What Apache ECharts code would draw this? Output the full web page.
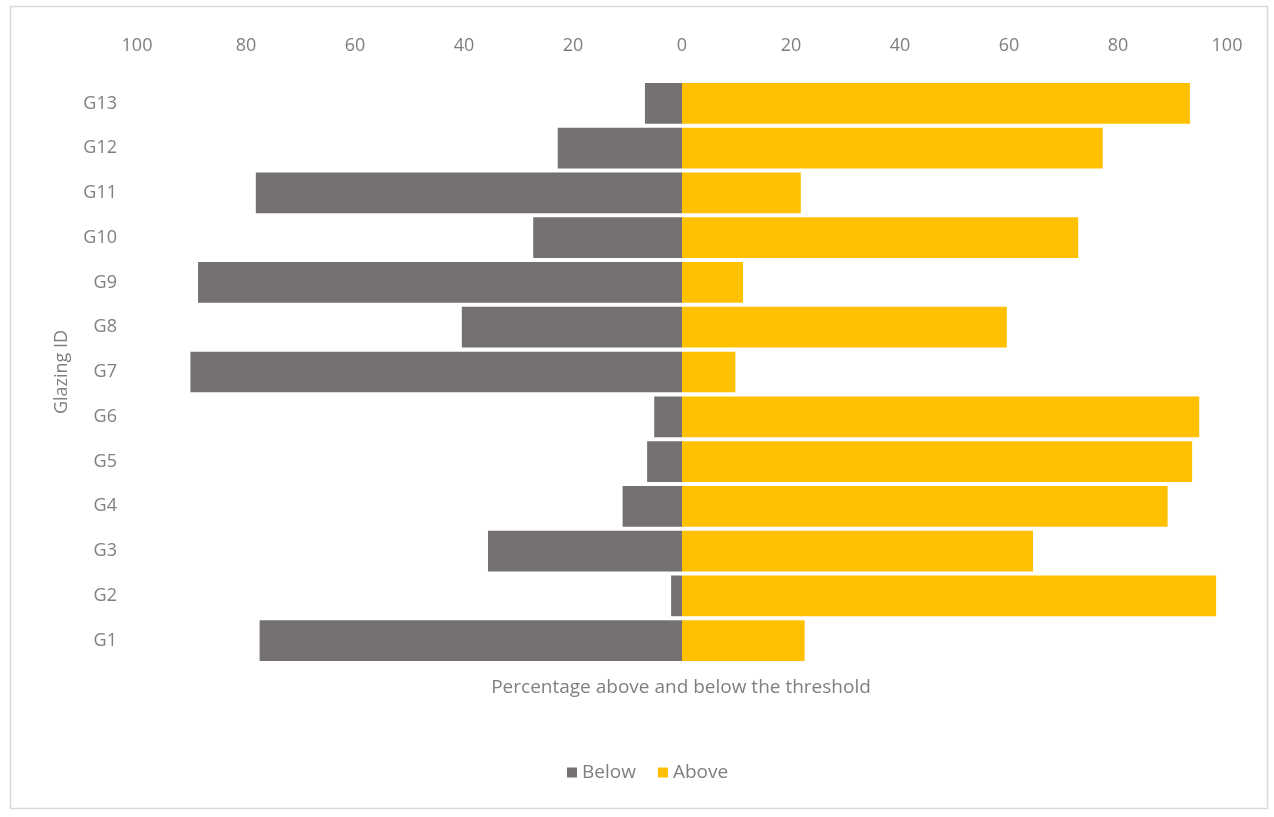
<!DOCTYPE html>
<html>
<head>
<meta charset="utf-8">
<title>Percentage above and below the threshold</title>
<script src="https://cdn.jsdelivr.net/npm/echarts@6/dist/echarts.min.js"></script>
<style>
  html, body { margin: 0; padding: 0; background: #ffffff; }
  #chart { width: 1274px; height: 817px; }
</style>
</head>
<body>
<div id="chart"></div>
<script>
// Glazing options, bottom to top
const categories = ['G1', 'G2', 'G3', 'G4', 'G5', 'G6', 'G7', 'G8', 'G9', 'G10', 'G11', 'G12', 'G13'];
// Share of the period below the threshold (%)
const belowValues = [77.5, 2.0, 35.6, 10.9, 6.4, 5.1, 90.2, 40.4, 88.8, 27.3, 78.2, 22.8, 6.8];
// Share of the period above the threshold (%)
const aboveValues = [22.5, 98.0, 64.4, 89.1, 93.6, 94.9, 9.8, 59.6, 11.2, 72.7, 21.8, 77.2, 93.2];
// Axis scale, shown as magnitudes on both sides of zero
const axisMin = -100;
const axisMax = 100;
const axisStep = 20;

const FONT = '"Open Sans", "DejaVu Sans", sans-serif';
const TEXT = '#7f7f7f';

const chart = echarts.init(document.getElementById('chart'), null, { renderer: 'canvas' });

chart.setOption({
  animation: false,
  backgroundColor: '#ffffff',
  textStyle: { fontFamily: FONT },
  grid: { left: 137, right: 47, top: 81, bottom: 154, containLabel: false },
  legend: {
    data: ['Below', 'Above'],
    bottom: 30,
    left: 562,
    itemWidth: 10,
    itemHeight: 10,
    itemGap: 22,
    icon: 'rect',
    textStyle: { color: TEXT, fontSize: 19, fontFamily: FONT }
  },
  xAxis: {
    type: 'value',
    position: 'top',
    min: axisMin,
    max: axisMax,
    interval: axisStep,
    axisLine: { show: false },
    axisTick: { show: false },
    splitLine: { show: false },
    axisLabel: {
      color: TEXT,
      fontSize: 18,
      fontFamily: FONT,
      margin: 26,
      formatter: v => String(Math.abs(v))
    }
  },
  yAxis: {
    type: 'category',
    data: categories,
    name: 'Glazing ID',
    nameLocation: 'middle',
    nameRotate: 90,
    nameGap: 66,
    nameTextStyle: { color: TEXT, fontSize: 18, fontFamily: FONT },
    axisLine: { show: false },
    axisTick: { show: false },
    axisLabel: { color: TEXT, fontSize: 18, fontFamily: FONT, margin: 20 }
  },
  series: [
    {
      name: 'Below',
      type: 'bar',
      stack: 'share',
      barCategoryGap: '9%',
      itemStyle: { color: '#767171' },
      data: belowValues.map(v => -v)
    },
    {
      name: 'Above',
      type: 'bar',
      stack: 'share',
      barCategoryGap: '9%',
      itemStyle: { color: '#FFC000' },
      data: aboveValues
    }
  ],
  graphic: [
    {
      type: 'rect',
      shape: { x: 10.5, y: 6.5, width: 1257, height: 802 },
      style: { fill: 'none', stroke: '#d9d9d9', lineWidth: 1.5 },
      silent: true
    },
    {
      // value-axis title, centred under the plot area
      type: 'text',
      x: 681,
      y: 688,
      style: {
        text: 'Percentage above and below the threshold',
        fill: TEXT,
        font: '19px ' + FONT,
        align: 'center',
        verticalAlign: 'middle'
      }
    }
  ]
});
</script>
</body>
</html>
